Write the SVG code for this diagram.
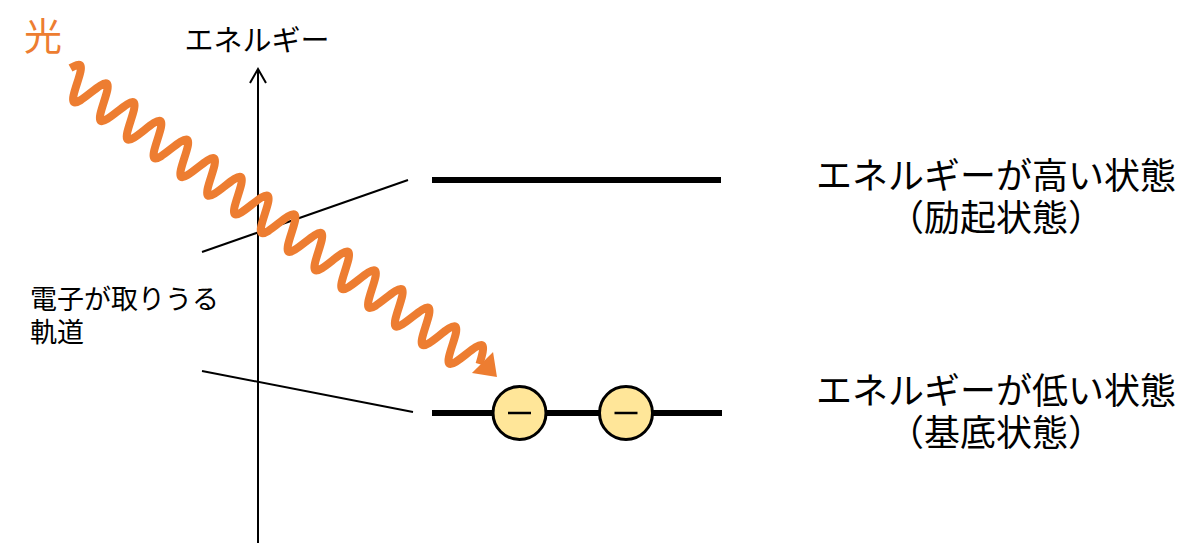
<svg xmlns="http://www.w3.org/2000/svg" width="1200" height="558" viewBox="0 0 1200 558">
<style>
text{font-family:"Noto Sans CJK JP","Noto Sans",sans-serif;fill:#000}
.thin{stroke:#000;stroke-width:2;fill:none}
.level{stroke:#000;stroke-width:6;fill:none}
.e{fill:#FFE699;stroke:#000;stroke-width:3}
.minus{stroke:#000;stroke-width:2.5}
.big{font-size:36px}
.light{fill:#ED7D31}
</style>
<rect width="1200" height="558" fill="#fff"/>
<g id="axis">
<line class="thin" x1="258" y1="69" x2="258" y2="543"/>
<polyline class="thin" points="250,83 258,69 266,83"/>
<text x="257" y="51" font-size="29" text-anchor="middle">エネルギー</text>
</g>
<g id="connectors">
<line class="thin" x1="202" y1="252" x2="408" y2="180"/>
<line class="thin" x1="202" y1="371" x2="413" y2="412"/>
</g>
<g id="excited">
<line class="level" x1="432" y1="180" x2="721" y2="180"/>
<text class="big" x="996" y="189" text-anchor="middle">エネルギーが高い状態</text>
<text class="big" x="996" y="231" text-anchor="middle">（励起状態）</text>
</g>
<g id="ground">
<line class="level" x1="432" y1="413" x2="722" y2="413"/>
<text class="big" x="996" y="404" text-anchor="middle">エネルギーが低い状態</text>
<text class="big" x="996" y="446" text-anchor="middle">（基底状態）</text>
</g>
<g id="electron1">
<circle class="e" cx="519.5" cy="413" r="26.5"/>
<line class="minus" x1="508" y1="413" x2="531" y2="413"/>
</g>
<g id="electron2">
<circle class="e" cx="626" cy="413" r="26.5"/>
<line class="minus" x1="614.5" y1="413" x2="637.5" y2="413"/>
</g>
<g id="orbital-label">
<text x="30" y="309" font-size="27">電子が取りうる</text>
<text x="30" y="342" font-size="27">軌道</text>
</g>
<g id="light">
<text class="light" x="24" y="50" font-size="38">光</text>
<g transform="translate(70.3,78.9) rotate(34.87)">
<path fill="none" stroke="#ED7D31" stroke-width="8" stroke-linejoin="round" d="M-6,-9 C-3,-15 -1.5,-17 0,-17 c5.95,0 10.39,34 16.34,34 s10.39,-34 16.34,-34 s10.39,34 16.34,34 s10.39,-34 16.34,-34 s10.39,34 16.34,34 s10.39,-34 16.34,-34 s10.39,34 16.34,34 s10.39,-34 16.34,-34 s10.39,34 16.34,34 s10.39,-34 16.34,-34 s10.39,34 16.34,34 s10.39,-34 16.34,-34 s10.39,34 16.34,34 s10.39,-34 16.34,-34 s10.39,34 16.34,34 s10.39,-34 16.34,-34 s10.39,34 16.34,34 s10.39,-34 16.34,-34 s10.39,34 16.34,34 s10.39,-34 16.34,-34 s10.39,34 16.34,34 s10.39,-34 16.34,-34 s10.39,34 16.34,34 s10.39,-34 16.34,-34 s10.39,34 16.34,34 s10.39,-34 16.34,-34 s10.39,34 16.34,34 s10.39,-34 16.34,-34 s10.39,34 16.34,34 s10.39,-34 16.34,-34 c3,0 6.2,10 8.6,17"/>
<polygon fill="#ED7D31" points="503,-17.6 497.7,11.7 520.5,0.7"/>
</g>
</g>
</svg>
